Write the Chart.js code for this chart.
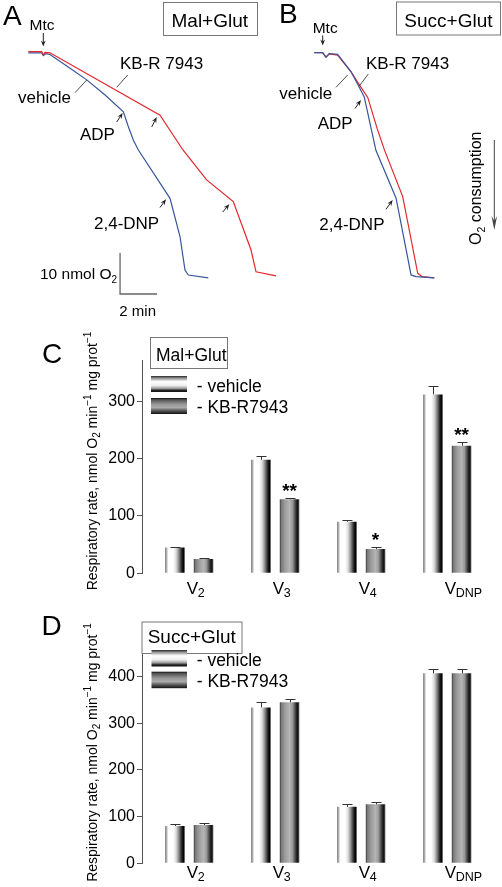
<!DOCTYPE html>
<html><head><meta charset="utf-8">
<script src="https://cdn.jsdelivr.net/npm/chart.js@4.4.1/dist/chart.umd.min.js"></script>
<style>
html,body{margin:0;padding:0;background:#fff;}
#wrap{position:relative;width:502px;height:887px;overflow:hidden;font-family:"Liberation Sans",Arial,sans-serif;}
canvas{position:absolute;}
#ov{position:absolute;left:0;top:0;pointer-events:none;}
#ov text{font-family:"Liberation Sans",Arial,sans-serif;fill:#000;}
</style></head>
<body><div id="wrap">
<canvas id="cA" width="300" height="300" style="left:0;top:0;width:300px;height:300px"></canvas>
<canvas id="cB" width="222" height="300" style="left:280px;top:0;width:222px;height:300px"></canvas>
<canvas id="cC" width="502" height="270" style="left:0;top:330px;width:502px;height:270px"></canvas>
<canvas id="cD" width="502" height="277" style="left:0;top:610px;width:502px;height:277px"></canvas>
<svg id="ov" width="502" height="887" xmlns="http://www.w3.org/2000/svg">
<defs>
<linearGradient id="gv" x1="0" y1="0" x2="0" y2="1">
<stop offset="0" stop-color="#222"/><stop offset="0.12" stop-color="#888"/><stop offset="0.35" stop-color="#fff"/><stop offset="0.6" stop-color="#eee"/><stop offset="0.78" stop-color="#999"/><stop offset="0.9" stop-color="#222"/><stop offset="1" stop-color="#111"/>
</linearGradient>
<linearGradient id="gk" x1="0" y1="0" x2="0" y2="1">
<stop offset="0" stop-color="#111"/><stop offset="0.12" stop-color="#555"/><stop offset="0.4" stop-color="#999"/><stop offset="0.6" stop-color="#aaa"/><stop offset="0.8" stop-color="#555"/><stop offset="1" stop-color="#111"/>
</linearGradient>
</defs>
<!-- panel letters -->
<text x="3" y="25" font-size="28">A</text>
<text x="279" y="23" font-size="28">B</text>
<text x="42" y="363" font-size="28">C</text>
<text x="41.5" y="635" font-size="28">D</text>
<!-- panel A annotations -->
<text x="29.5" y="30" font-size="15.5">Mtc</text>
<rect x="163.5" y="2.5" width="94" height="33" fill="none" stroke="#777" stroke-width="1"/>
<text x="171.5" y="27" font-size="19">Mal+Glut</text>
<text x="120" y="69.3" font-size="17">KB-R 7943</text>
<text x="18" y="103.3" font-size="17">vehicle</text>
<text x="80" y="140" font-size="17">ADP</text>
<text x="94" y="228.5" font-size="17">2,4-DNP</text>
<text x="40" y="279" font-size="15.5">10 nmol O<tspan font-size="10" dy="4">2</tspan></text>
<text x="119.3" y="316" font-size="15">2 min</text>
<line x1="127.7" y1="75" x2="116.7" y2="87.3" stroke="#222" stroke-width="0.8"/>
<line x1="75" y1="92.7" x2="86.7" y2="80" stroke="#222" stroke-width="0.8"/>
<!-- panel B annotations -->
<text x="312.7" y="32.7" font-size="15.5">Mtc</text>
<rect x="396.5" y="2" width="104" height="33" fill="none" stroke="#777" stroke-width="1"/>
<text x="404.3" y="27.3" font-size="19">Succ+Glut</text>
<text x="366" y="69.3" font-size="17">KB-R 7943</text>
<text x="279.3" y="99.3" font-size="17">vehicle</text>
<text x="317.7" y="129.3" font-size="17">ADP</text>
<text x="319.3" y="230" font-size="17">2,4-DNP</text>
<line x1="368.3" y1="74" x2="359.3" y2="86" stroke="#222" stroke-width="0.8"/>
<line x1="336" y1="87.3" x2="347.7" y2="75" stroke="#222" stroke-width="0.8"/>
<text transform="translate(481,245) rotate(-90)" font-size="16">O<tspan font-size="10.5" dy="4">2</tspan><tspan dy="-4"> consumption</tspan></text>
<g id="arrows"></g>
<!-- panel C annotations -->
<rect x="150.5" y="337.5" width="77" height="31" fill="#fff" stroke="#777" stroke-width="1"/>
<text x="156" y="361" font-size="17.5">Mal+Glut</text>
<rect x="151" y="376" width="36" height="16" fill="url(#gv)"/>
<rect x="151" y="398" width="36" height="16" fill="url(#gk)"/>
<text x="196.7" y="391.7" font-size="17.5">- vehicle</text>
<text x="196.7" y="413.3" font-size="17.5">- KB-R7943</text>
<text transform="translate(96.5,461) rotate(-90)" text-anchor="middle" font-size="14">Respiratory rate, nmol O<tspan font-size="10" dy="3">2</tspan><tspan dy="-3"> min</tspan><tspan font-size="10" dy="-6">−1</tspan><tspan dy="6"> mg prot</tspan><tspan font-size="10" dy="-6">−1</tspan></text>
<!-- panel D annotations -->
<rect x="142" y="622" width="100" height="31.5" fill="#fff" stroke="#777" stroke-width="1"/>
<text x="147.7" y="642.5" font-size="19">Succ+Glut</text>
<rect x="151.5" y="650" width="35.5" height="16.5" fill="url(#gv)"/>
<rect x="151.5" y="671.7" width="35.5" height="16.5" fill="url(#gk)"/>
<text x="196.7" y="665.7" font-size="17.5">- vehicle</text>
<text x="196.7" y="687.3" font-size="17.5">- KB-R7943</text>
<text transform="translate(96.5,752.5) rotate(-90)" text-anchor="middle" font-size="14">Respiratory rate, nmol O<tspan font-size="10" dy="3">2</tspan><tspan dy="-3"> min</tspan><tspan font-size="10" dy="-6">−1</tspan><tspan dy="6"> mg prot</tspan><tspan font-size="10" dy="-6">−1</tspan></text>
</svg>
</div>
<script>
// ---------- DATA ----------
// Panel A (Mal+Glut): time (min) and O2 in chamber (nmol)
const A_kb_t   = [0, 0.72, 0.81, 0.90, 1.17, 7.12, 8.36, 9.64, 11.08, 12.04, 12.31, 13.39];
const A_kb_o2  = [230.1, 230.1, 229.3, 229.9, 229.8, 214.6, 206.1, 198.8, 193.5, 181.7, 176.4, 175.4];
const A_veh_t  = [0, 0.72, 0.81, 0.96, 1.17, 2.08, 3.16, 4.15, 5.14, 5.39, 5.68, 5.95, 7.66, 8.20, 8.47, 8.65, 9.73];
const A_veh_o2 = [229.8, 229.8, 229.1, 229.6, 229.4, 226.6, 223.2, 219.5, 215.4, 212.0, 208.5, 206.1, 194.3, 185.0, 176.8, 175.6, 174.9];
// Panel B (Succ+Glut)
const B_kb_t   = [0, 0.45, 0.63, 0.81, 1.26, 1.98, 2.47, 2.89, 3.39, 3.79, 4.78, 5.59, 5.82, 6.48];
const B_kb_o2  = [230, 230, 228.9, 229.7, 229.4, 225.4, 221.9, 219.1, 211.6, 206.3, 194.9, 176.2, 175.4, 175.1];
const B_veh_t  = [0, 0.45, 0.63, 0.81, 1.26, 1.98, 2.36, 2.70, 3.33, 4.42, 5.23, 5.50, 6.49];
const B_veh_o2 = [230, 230, 228.9, 229.8, 229.6, 225.4, 222.2, 219.2, 206.2, 194.5, 175.8, 175.4, 175.1];
// scale bar: 2 min, 10 nmol O2
const scaleBarT0 = 4.96, scaleBarO2 = 170.98, scaleBarMin = 2, scaleBarNmol = 10;

// Bar panels
const categories = ['V', 'V', 'V', 'V'];
const categorySubs = ['2', '3', '4', 'DNP'];
const yTicksC = [0, 100, 200, 300];
const yTicksD = [0, 100, 200, 300, 400];
const C_vehicle     = [45, 198, 90, 312];
const C_vehicle_err = [1.5, 6, 2.4, 15];
const C_kb          = [25, 129, 42.4, 222.6];
const C_kb_err      = [1.5, 3, 3.5, 7];
const C_sig         = ['', '**', '*', '**'];
const D_vehicle     = [80, 334, 121, 407];
const D_vehicle_err = [3.5, 11, 6, 9.7];
const D_kb          = [82, 345, 126.3, 407];
const D_kb_err      = [3.5, 7.5, 4.3, 9];
const D_sig         = ['', '', '', ''];

// ---------- STYLE ----------
Chart.defaults.font.family = '"Liberation Sans", Arial, sans-serif';
const RED = '#e3262d', BLUE = '#37559c';
const PX_PER_MIN = 18.5, PX_PER_NMOL = 4.1;

function pts(t, o){ return t.map((v,i)=>({x:v, y:o[i]})); }

function traceChart(id, w, h, t0px, o2Ref, o2RefPx, datasets){
  const xmin = -t0px/PX_PER_MIN, xmax = xmin + w/PX_PER_MIN;
  const ymax = o2Ref + o2RefPx/PX_PER_NMOL, ymin = ymax - h/PX_PER_NMOL;
  return new Chart(document.getElementById(id), {
    type:'line',
    data:{datasets},
    options:{responsive:false, animation:false, events:[],
      layout:{padding:0},
      plugins:{legend:{display:false}, tooltip:{enabled:false}},
      elements:{point:{radius:0}, line:{tension:0, borderWidth:1.2}},
      scales:{x:{type:'linear', min:xmin, max:xmax, display:false},
              y:{type:'linear', min:ymin, max:ymax, display:false}}}
  });
}

traceChart('cA', 300, 300, 28.3, 230, 52, [
  {data:pts(A_kb_t, A_kb_o2), borderColor:RED, fill:false},
  {data:pts(A_veh_t, A_veh_o2), borderColor:BLUE, fill:false},
  {data:[{x:scaleBarT0, y:scaleBarO2+scaleBarNmol},{x:scaleBarT0, y:scaleBarO2},{x:scaleBarT0+scaleBarMin, y:scaleBarO2}], borderColor:'#666', borderWidth:1.3, fill:false}
]);
traceChart('cB', 222, 300, 34.3, 230, 52.7, [
  {data:pts(B_veh_t, B_veh_o2), borderColor:BLUE, fill:false},
  {data:pts(B_kb_t, B_kb_o2), borderColor:RED, fill:false}
]);

const vehStops = [[0,'#555'],[0.06,'#aaa'],[0.15,'#fff'],[0.4,'#fff'],[0.55,'#ddd'],[0.7,'#888'],[0.85,'#222'],[0.93,'#000'],[1,'#555']];
const kbStops  = [[0,'#333'],[0.07,'#777'],[0.25,'#999'],[0.5,'#b5b5b5'],[0.65,'#999'],[0.8,'#444'],[0.9,'#111'],[1,'#555']];

const barDeco = {
  id:'barDeco',
  beforeDatasetsDraw(chart){
    const ctx = chart.ctx;
    chart.data.datasets.forEach((ds,di)=>{
      chart.getDatasetMeta(di).data.forEach(el=>{
        const g = ctx.createLinearGradient(el.x-el.width/2,0,el.x+el.width/2,0);
        ds.stops.forEach(s=>g.addColorStop(s[0],s[1]));
        try { el.options.backgroundColor = g; } catch(e){}
      });
    });
  },
  afterDatasetsDraw(chart, args, opts){
    const ctx = chart.ctx, ys = chart.scales.y, xs = chart.scales.x;
    ctx.save();
    chart.data.datasets.forEach((ds,di)=>{
      chart.getDatasetMeta(di).data.forEach((el,i)=>{
        const v = ds.data[i].y, e = ds.err[i];
        const yb = ys.getPixelForValue(v), yt = Math.round(ys.getPixelForValue(v+e))+0.5;
        const x = Math.round(el.x)+0.5;
        ctx.strokeStyle = '#333'; ctx.lineWidth = 1;
        ctx.beginPath(); ctx.moveTo(x, yb); ctx.lineTo(x, yt);
        ctx.moveTo(x-5, yt); ctx.lineTo(x+5, yt); ctx.stroke();
        if (ds.sig && ds.sig[i]) {
          ctx.fillStyle = '#000'; ctx.font = 'bold 19px "Liberation Sans", Arial';
          ctx.textAlign = 'center'; ctx.textBaseline = 'alphabetic';
          ctx.fillText(ds.sig[i], el.x, yt - 2);
        }
      });
    });
    // category labels with subscripts
    const by = chart.chartArea.bottom + opts.labelDy;
    categories.forEach((c,i)=>{
      const cx = xs.getPixelForValue(i) - 2.5;
      ctx.fillStyle = '#000'; ctx.textAlign = 'left'; ctx.textBaseline = 'alphabetic';
      ctx.font = '17px "Liberation Sans", Arial';
      ctx.fillText(c, cx, by);
      const w = ctx.measureText(c).width;
      ctx.font = '12.5px "Liberation Sans", Arial';
      ctx.fillText(categorySubs[i], cx + w - 0.5, by + 3);
    });
    ctx.restore();
  }
};

function barChart(id, veh, vehErr, kb, kbErr, sig, ticks, yMax, padTop, padBottom, labelDy){
  const common = {borderWidth:0, categoryPercentage:0.663, barPercentage:0.684, backgroundColor:()=>'#999'};
  return new Chart(document.getElementById(id), {
    type:'bar',
    data:{datasets:[
      Object.assign({label:'vehicle', data:veh.map((v,i)=>({x:i,y:v})), err:vehErr, stops:vehStops}, common),
      Object.assign({label:'KB-R7943', data:kb.map((v,i)=>({x:i,y:v})), err:kbErr, sig:sig, stops:kbStops}, common)
    ]},
    options:{responsive:false, animation:false, events:[],
      layout:{padding:{left:0, right:7.4, top:padTop, bottom:padBottom}},
      plugins:{legend:{display:false}, tooltip:{enabled:false}, barDeco:{labelDy}},
      scales:{
        x:{type:'linear', min:-0.55, max:3.55, offset:false, display:false, grid:{offset:false}, ticks:{stepSize:1, includeBounds:false}},
        y:{type:'linear', min:0, max:yMax, afterFit:s=>{s.width=142;},
           afterBuildTicks:s=>{s.ticks = ticks.map(v=>({value:v}));},
           border:{display:true, color:'#555', width:1},
           grid:{drawOnChartArea:false, drawTicks:true, tickLength:5, color:'#555'},
           ticks:{padding:2, color:'#000', font:{size:16}}}
      }
    },
    plugins:[barDeco]
  });
}

barChart('cC', C_vehicle, C_vehicle_err, C_kb, C_kb_err, C_sig, yTicksC, 372, 30, 26.7, 20.7);
barChart('cD', D_vehicle, D_vehicle_err, D_kb, D_kb_err, D_sig, yTicksD, 453.4, 41.7, 23.7, 15);

// ---------- small annotation arrows ----------
const NS = 'http://www.w3.org/2000/svg';
const g = document.getElementById('arrows');
function arrow(x1,y1,x2,y2,hl,hw,col){
  const dx=x2-x1, dy=y2-y1, L=Math.hypot(dx,dy), ux=dx/L, uy=dy/L, nx=-uy, ny=ux;
  const ln=document.createElementNS(NS,'line');
  ln.setAttribute('x1',x1);ln.setAttribute('y1',y1);ln.setAttribute('x2',x2-ux*hl*0.6);ln.setAttribute('y2',y2-uy*hl*0.6);
  ln.setAttribute('stroke',col);ln.setAttribute('stroke-width','1');g.appendChild(ln);
  const bx=x2-ux*hl, by=y2-uy*hl, mx=x2-ux*hl*0.65, my=y2-uy*hl*0.65;
  const p=document.createElementNS(NS,'polygon');
  p.setAttribute('points',`${x2},${y2} ${bx+nx*hw},${by+ny*hw} ${mx},${my} ${bx-nx*hw},${by-ny*hw}`);
  p.setAttribute('fill',col);g.appendChild(p);
}
arrow(43.3,33,43.3,46.5,6,2.4,'#222');
arrow(322.7,35.5,322.7,45.5,6,2.4,'#222');
arrow(116.7,122,122.7,113,6,2.4,'#222');
arrow(151.7,127,156.7,117,6,2.4,'#222');
arrow(160,207.5,166,199.3,6,2.4,'#222');
arrow(222.7,212,229.3,204.3,6,2.4,'#222');
arrow(355,108.5,361,100,6,2.4,'#222');
arrow(386,209.3,392.7,200,6,2.4,'#222');
arrow(494.3,140,494.3,230,14,2.8,'#444');
</script>
</body></html>
